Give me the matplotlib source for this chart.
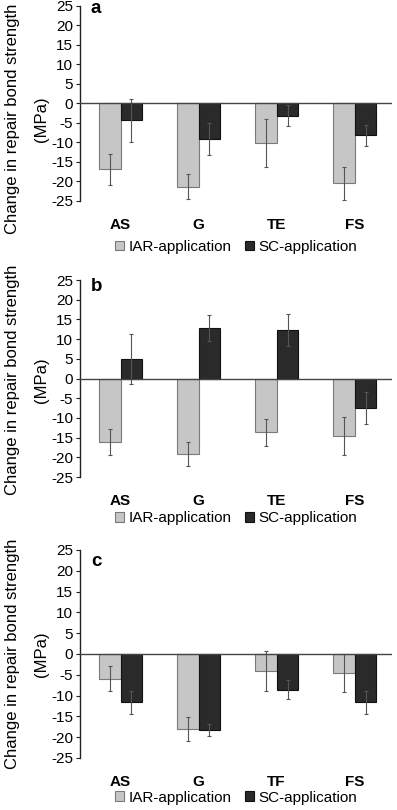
import numpy as np
import matplotlib
matplotlib.use('Agg')
import matplotlib.pyplot as plt

plt.rcParams['font.family'] = ['Liberation Sans', 'DejaVu Sans']

# 數據 (MPa)
panels = ['a', 'b', 'c']
categories_a = ['AS', 'G', 'TE', 'FS']
categories_b = ['AS', 'G', 'TE', 'FS']
categories_c = ['AS', 'G', 'TF', 'FS']

iar_a = [-16.9, -21.3, -10.2, -20.5]
iar_a_err = [3.9, 3.1, 6.1, 4.2]
sc_a = [-4.3, -9.1, -3.1, -8.2]
sc_a_err = [5.5, 4.1, 2.8, 2.7]

iar_b = [-16.1, -19.1, -13.7, -14.5]
iar_b_err = [3.2, 3.0, 3.4, 4.8]
sc_b = [4.9, 12.7, 12.3, -7.5]
sc_b_err = [6.3, 3.3, 4.0, 4.0]

iar_c = [-5.9, -18.0, -4.1, -4.5]
iar_c_err = [3.1, 2.9, 4.7, 4.6]
sc_c = [-11.6, -18.3, -8.6, -11.6]
sc_c_err = [2.8, 1.4, 2.3, 2.8]

labels = ['IAR-application', 'SC-application']
yticks = [25, 20, 15, 10, 5, 0, -5, -10, -15, -20, -25]

fig = plt.figure(figsize=(3.97, 8.10), dpi=100)

# 各子圖位置 (left, bottom, width, height)
rects = [
    (0.2015, 0.7519, 0.786, 0.2407),
    (0.2015, 0.4111, 0.786, 0.2432),
    (0.2015, 0.0642, 0.786, 0.2568),
]
legend_y = [-0.235, -0.21, -0.19]
label_y = [1 - 119 / 810, 1 - 380 / 810, 1 - 654 / 810]

data = [
    (categories_a, iar_a, iar_a_err, sc_a, sc_a_err),
    (categories_b, iar_b, iar_b_err, sc_b, sc_b_err),
    (categories_c, iar_c, iar_c_err, sc_c, sc_c_err),
]

w = 0.28
for k, (cats, iar, iar_err, sc, sc_err) in enumerate(data):
    ax = fig.add_axes(rects[k])
    x = np.arange(len(cats)) + 0.52
    err_kw = dict(ecolor='#555555', elinewidth=0.8, capsize=1.5, capthick=0.8)
    ax.bar(x - w / 2, iar, w, yerr=iar_err, color='#c6c6c6',
           edgecolor='#7a7a7a', linewidth=0.8, error_kw=err_kw, label=labels[0])
    ax.bar(x + w / 2, sc, w, yerr=sc_err, color='#2a2a2a',
           edgecolor='#111111', linewidth=0.8, error_kw=err_kw, label=labels[1])
    ax.axhline(0, color='#444444', lw=1.0, zorder=3)

    ax.set_xlim(0, 4)
    ax.set_ylim(-25, 25)
    ax.set_yticks(yticks)
    ax.set_yticklabels([str(t) for t in yticks], fontsize=11)
    ax.tick_params(axis='y', length=3, width=0.8, pad=2, color='#222222')
    ax.set_xticks(x)
    ax.set_xticklabels(cats, fontsize=11, fontweight='bold')
    ax.tick_params(axis='x', length=0, pad=12)
    for s in ['top', 'right', 'bottom']:
        ax.spines[s].set_visible(False)
    ax.spines['left'].set_linewidth(1.0)
    ax.spines['left'].set_color('#222222')

    ax.text(0.035, 0.985 - 0.02 * k, panels[k], transform=ax.transAxes,
            fontsize=13.5, fontweight='bold', va='center', ha='left')

    ax.legend(loc='center', bbox_to_anchor=(0.5, legend_y[k]), ncol=2,
              frameon=False, fontsize=11, handlelength=0.6, handleheight=0.6,
              handletextpad=0.3, columnspacing=0.9, borderpad=0)

    fig.text(13 / 397, label_y[k], 'Change in repair bond strength',
             rotation=90, ha='center', va='center', fontsize=12)
    fig.text(42 / 397, label_y[k], '(MPa)',
             rotation=90, ha='center', va='center', fontsize=12)

fig.savefig('out.png', dpi=100)
